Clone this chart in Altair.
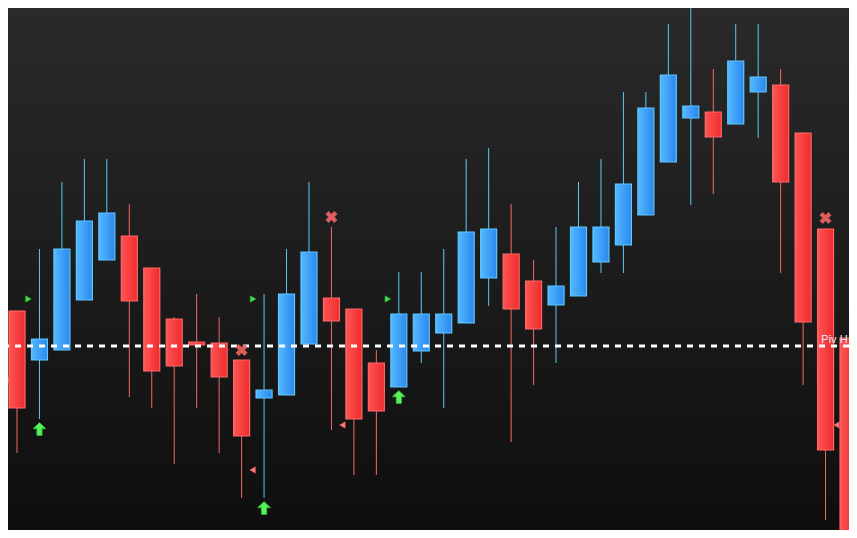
import altair as alt
import pandas as pd

# ---- data (price units) ----
idx   = list(range(39))
open_ = [256, 227, 178, 188, 238, 278, 302, 270, 219, 196, 195, 178, 140, 143, 194, 240, 229, 175, 151, 187,
         205, 215, 260, 284, 257, 233, 242, 276, 293, 323, 376, 420, 426, 414, 446, 453, 405, 309, 200]
close = [199, 130, 199, 289, 317, 325, 237, 167, 172, 193, 161, 102, 148, 244, 286, 217, 119, 127, 224, 224,
         224, 306, 309, 229, 209, 252, 311, 311, 354, 430, 463, 432, 401, 477, 461, 356, 216, 88, -22]
high  = [311, 227, 289, 356, 379, 379, 334, 270, 221, 244, 221, 178, 244, 289, 356, 311, 229, 188, 266, 266,
         289, 379, 390, 334, 278, 311, 356, 379, 446, 446, 514, 537, 469, 514, 514, 469, 405, 309, 200]
low   = [166, 85, 119, 188, 238, 278, 141, 130, 74, 130, 85, 40, 40, 143, 194, 108, 63, 63, 151, 175,
         130, 215, 232, 96, 153, 175, 242, 265, 265, 323, 376, 333, 344, 414, 400, 265, 153, 18, -42]

buy_idx = [2, 12, 18]
buy_arrow = [109, 30, 141]
buy_mark_x = [1.51, 11.51, 17.51]
buy_mark_y = [239, 239, 239]

sell_idx = [0, 11, 15, 37]
sell_x_y = [321, 188, 321, 320]
sell_mark_x = [0.51, 11.49, 15.49, 37.49]
sell_mark_y = [158, 68, 113, 113]

pivot_level = 192
pivot_label = "Piv H"
pivot_label_x = 37.98

W, H = 841, 522
XDOM = [0.5993, 38.0436]
YDOM = [8, 530]

candles = pd.DataFrame({"i": idx, "open": open_, "close": close, "high": high, "low": low})
candles["top"] = candles[["open", "close"]].max(axis=1)
candles["bot"] = candles[["open", "close"]].min(axis=1)
candles["dir"] = ["up" if c > o else "down" for o, c in zip(open_, close)]

xs = alt.Scale(domain=XDOM, nice=False, zero=False, padding=0)
ys = alt.Scale(domain=YDOM, nice=False, zero=False, padding=0)

X = alt.X("i:Q", scale=xs, axis=None)

bg = alt.Chart(pd.DataFrame({"a": [0]})).mark_rect(
    fill=alt.Gradient(gradient="linear",
                      stops=[alt.GradientStop(color="#2a2a2a", offset=0),
                             alt.GradientStop(color="#0e0e0e", offset=1)],
                      x1=0, x2=0, y1=0, y2=1)
).encode(x=alt.value(0), x2=alt.value(W), y=alt.value(0), y2=alt.value(H))

base = alt.Chart(candles)

wick_up = base.transform_filter("datum.dir == 'up'").mark_rule(color="#5ac8f8", strokeWidth=1, clip=True).encode(
    x=X, y=alt.Y("high:Q", scale=ys, axis=None), y2="low:Q")
wick_dn = base.transform_filter("datum.dir == 'down'").mark_rule(color="#f06a6a", strokeWidth=1, clip=True).encode(
    x=X, y=alt.Y("high:Q", scale=ys, axis=None), y2="low:Q")

blue_grad = alt.Gradient(gradient="linear",
                         stops=[alt.GradientStop(color="#54b8ff", offset=0),
                                alt.GradientStop(color="#2a88ee", offset=1)],
                         x1=0, x2=1, y1=0, y2=0)
red_grad = alt.Gradient(gradient="linear",
                        stops=[alt.GradientStop(color="#ff5454", offset=0),
                               alt.GradientStop(color="#ee2c2c", offset=1)],
                        x1=0, x2=1, y1=0, y2=0)

body_up = base.transform_filter("datum.dir == 'up'").mark_bar(
    size=16, orient="vertical", fill=blue_grad, stroke="#5cc8ff", strokeWidth=1.2, clip=True
).encode(x=X, y=alt.Y("top:Q", scale=ys, axis=None), y2="bot:Q")
body_dn = base.transform_filter("datum.dir == 'down'").mark_bar(
    size=16, orient="vertical", fill=red_grad, stroke="#ff6868", strokeWidth=1.2, clip=True
).encode(x=X, y=alt.Y("top:Q", scale=ys, axis=None), y2="bot:Q")

pivot = alt.Chart(pd.DataFrame({"p": [pivot_level]})).mark_rule(
    color="white", strokeWidth=3, strokeDash=[6, 6]
).encode(y=alt.Y("p:Q", scale=ys, axis=None))

pivot_text = alt.Chart(pd.DataFrame({"i": [pivot_label_x], "p": [pivot_level + 3], "t": [pivot_label]})).mark_text(
    align="right", baseline="alphabetic", fontSize=11, font="Liberation Sans", color="#e4ecff"
).encode(x=X, y=alt.Y("p:Q", scale=ys, axis=None), text="t:N")

arrow_path = "M0,-1 L1,-0.05 L0.4,-0.05 L0.4,1 L-0.4,1 L-0.4,-0.05 L-1,-0.05 Z"
x_path = ("M-1,-0.5 L-0.5,-1 L0,-0.5 L0.5,-1 L1,-0.5 L0.5,0 L1,0.5 L0.5,1 L0,0.5 "
          "L-0.5,1 L-1,0.5 L-0.5,0 Z")

buy_df = pd.DataFrame({"i": buy_idx, "y": buy_arrow})
arrows = alt.Chart(buy_df).mark_point(
    shape=arrow_path, size=160, filled=True, fill="#5cf05c", stroke="#2ec83a", strokeWidth=1, opacity=1
).encode(x=X, y=alt.Y("y:Q", scale=ys, axis=None))

buy_tri = alt.Chart(pd.DataFrame({"i": buy_mark_x, "y": buy_mark_y})).mark_point(
    shape="triangle-right", size=40, filled=True, fill="#48e048", stroke="#2aa82a", strokeWidth=0.8, opacity=1
).encode(x=X, y=alt.Y("y:Q", scale=ys, axis=None))

sell_df = pd.DataFrame({"i": sell_idx, "y": sell_x_y})
crosses = alt.Chart(sell_df).mark_point(
    shape=x_path, size=130, filled=True, fill="#ea6262", stroke="#d85a5a", strokeWidth=0.6, opacity=0.95, clip=True
).encode(x=X, y=alt.Y("y:Q", scale=ys, axis=None))

sell_tri = alt.Chart(pd.DataFrame({"i": sell_mark_x, "y": sell_mark_y})).mark_point(
    shape="triangle-left", size=40, filled=True, fill="#ff7a7a", stroke="#e05a5a", strokeWidth=0.6, opacity=1, clip=True
).encode(x=X, y=alt.Y("y:Q", scale=ys, axis=None))

chart = alt.layer(
    bg, wick_up, wick_dn, body_up, body_dn, pivot, buy_tri, sell_tri, arrows, crosses, pivot_text
).properties(
    width=W, height=H, padding=0, autosize=alt.AutoSizeParams(type="none"), background="#1c1c1c"
).configure_view(stroke=None)

chart.save("out.html", embed_options={"renderer": "svg", "actions": False})
